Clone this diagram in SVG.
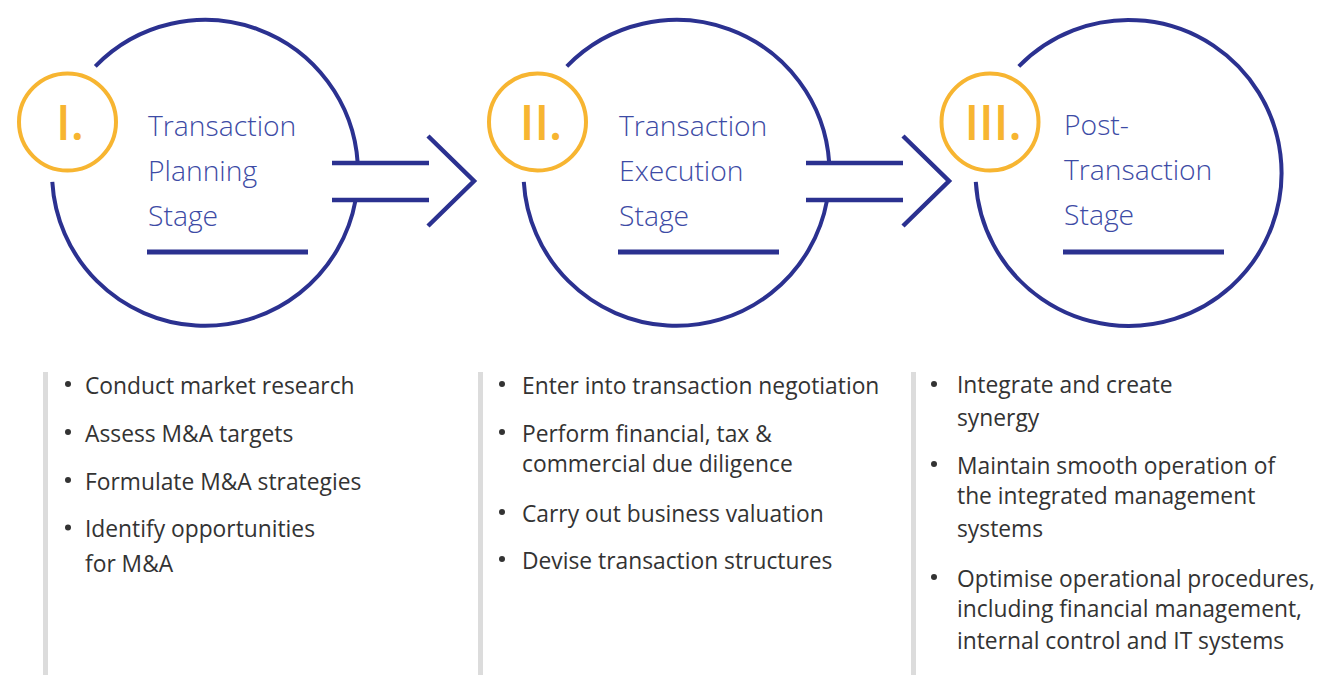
<svg xmlns="http://www.w3.org/2000/svg" width="1322" height="675" viewBox="0 0 1322 675">
  <style>
    .ring { fill: none; stroke: #2b3190; stroke-width: 4; }
    .badge { fill: none; stroke: #f7b531; stroke-width: 4; }
    .numeral { font-family: "Open Sans", "Noto Sans", sans-serif; font-size: 48px; font-weight: 600; fill: #f7b531; text-anchor: middle; }
    .title { font-family: "Open Sans", "Noto Sans", sans-serif; font-size: 28.3px; font-weight: 300; fill: #3d4ba5; }
    .rule { stroke: #2b3190; stroke-width: 5; }
    .link { fill: none; stroke: #2b3190; stroke-width: 4.5; stroke-linejoin: miter; }
    .bar { fill: #dcdcdc; }
    .item { font-family: "Open Sans", "Noto Sans", sans-serif; font-size: 22.8px; font-weight: 400; fill: #333333; }
    .dot { fill: #333333; }
  </style>
  <rect width="1322" height="675" fill="#ffffff"/>

  <!-- Stage I -->
  <g id="stage-1">
    <path class="ring" d="M95.3 66.3 A153 153 0 0 1 357.7 163"/>
    <path class="ring" d="M355.6 200 A153 153 0 0 1 52.3 181.8"/>
    <circle class="badge" cx="67.5" cy="122" r="48.5"/>
    <text class="numeral" x="70" y="140">I.</text>
    <text class="title" x="148" y="136">Transaction</text>
    <text class="title" x="148" y="181">Planning</text>
    <text class="title" x="148" y="226">Stage</text>
    <line class="rule" x1="147" y1="252" x2="308" y2="252"/>
  </g>

  <!-- Stage II -->
  <g id="stage-2">
    <path class="ring" d="M566.8 66.3 A153 153 0 0 1 829.2 163"/>
    <path class="ring" d="M827.1 200 A153 153 0 0 1 523.8 181.8"/>
    <circle class="badge" cx="537.5" cy="122" r="48.5"/>
    <text class="numeral" x="541" y="140">II.</text>
    <text class="title" x="619" y="136">Transaction</text>
    <text class="title" x="619" y="181">Execution</text>
    <text class="title" x="619" y="226">Stage</text>
    <line class="rule" x1="618" y1="252" x2="779" y2="252"/>
  </g>

  <!-- Stage III -->
  <g id="stage-3">
    <path class="ring" d="M1018.8 66.3 A153 153 0 1 1 975.8 181.8"/>
    <circle class="badge" cx="990" cy="122" r="48.5"/>
    <text class="numeral" x="993" y="140">III.</text>
    <text class="title" x="1064" y="135">Post-</text>
    <text class="title" x="1064" y="180">Transaction</text>
    <text class="title" x="1064" y="225">Stage</text>
    <line class="rule" x1="1063" y1="252" x2="1224" y2="252"/>
  </g>

  <!-- Double-line arrows between stages -->
  <g id="connectors">
    <path class="link" d="M332 163 H429 M332 200 H429 M428 136 L474 181 L428 226"/>
    <path class="link" d="M806 163 H903 M806 200 H903 M903 136 L949 181 L903 226"/>
  </g>

  <!-- Activity lists -->
  <g id="list-1">
    <rect class="bar" x="43" y="372" width="5" height="303"/>
    <circle class="dot" cx="68" cy="384" r="3"/>
    <text class="item" x="85" y="393.5">Conduct market research</text>
    <circle class="dot" cx="68" cy="432" r="3"/>
    <text class="item" x="85" y="441.5">Assess M&amp;A targets</text>
    <circle class="dot" cx="68" cy="480" r="3"/>
    <text class="item" x="85" y="489.5">Formulate M&amp;A strategies</text>
    <circle class="dot" cx="68" cy="527.5" r="3"/>
    <text class="item" x="85" y="537">Identify opportunities</text>
    <text class="item" x="85" y="572">for M&amp;A</text>
  </g>

  <g id="list-2">
    <rect class="bar" x="478" y="372" width="5" height="303"/>
    <circle class="dot" cx="502" cy="384" r="3"/>
    <text class="item" x="522" y="393.5">Enter into transaction negotiation</text>
    <circle class="dot" cx="502" cy="432" r="3"/>
    <text class="item" x="522" y="441.5">Perform financial, tax &amp;</text>
    <text class="item" x="522" y="472">commercial due diligence</text>
    <circle class="dot" cx="502" cy="512" r="3"/>
    <text class="item" x="522" y="521.5">Carry out business valuation</text>
    <circle class="dot" cx="502" cy="559" r="3"/>
    <text class="item" x="522" y="568.5">Devise transaction structures</text>
  </g>

  <g id="list-3">
    <rect class="bar" x="911" y="372" width="5" height="303"/>
    <circle class="dot" cx="934" cy="384" r="3"/>
    <text class="item" x="957" y="393">Integrate and create</text>
    <text class="item" x="957" y="425.5">synergy</text>
    <circle class="dot" cx="934" cy="464" r="3"/>
    <text class="item" x="957" y="473.5">Maintain smooth operation of</text>
    <text class="item" x="957" y="504">the integrated management</text>
    <text class="item" x="957" y="536.5">systems</text>
    <circle class="dot" cx="934" cy="577" r="3"/>
    <text class="item" x="957" y="586.5">Optimise operational procedures,</text>
    <text class="item" x="957" y="617">including financial management,</text>
    <text class="item" x="957" y="648.5">internal control and IT systems</text>
  </g>
</svg>
